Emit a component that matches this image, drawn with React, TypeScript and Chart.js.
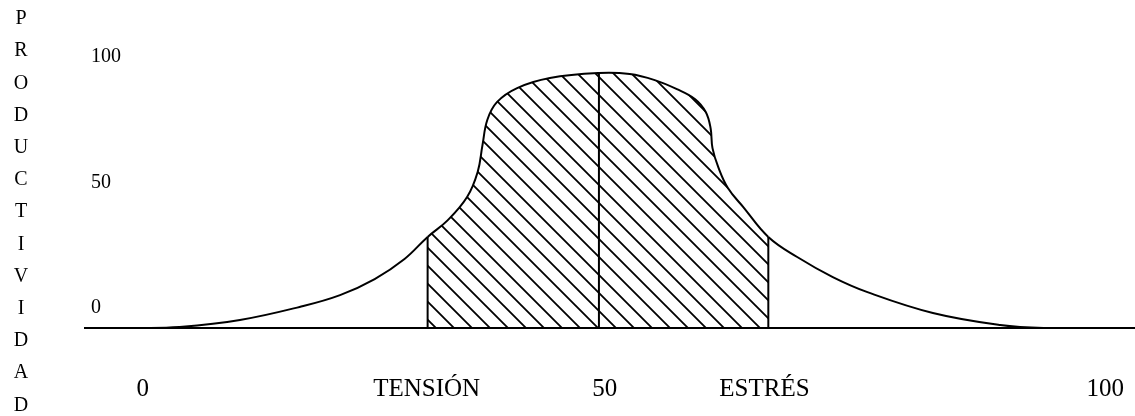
import React, { useEffect, useRef } from 'react';
import { Chart, registerables } from 'chart.js';

Chart.register(...registerables);

// Curve (x = stress level, y = productivity)
const curveX = [-6, 0, 3.8, 10.1, 16.3, 20.5, 24.1, 27.2, 29.6, 31.7, 33.7, 34.8, 35.3, 35.8, 36.8, 38.9, 42.3, 47.4, 50.6, 53.2, 55.5, 57.4, 58.5, 59.0, 59.2, 59.8, 60.8, 62.4, 65.0, 68.0, 71.7, 75.3, 82.1, 89.1, 93.6, 103.1];
const curveY = [0, 0, 0.4, 3.2, 8.4, 13.1, 19.5, 27.5, 36.3, 43.0, 52.2, 62.2, 72.9, 82.9, 90.0, 95.6, 99.6, 101.6, 101.2, 98.8, 95.2, 91.2, 86.1, 79.7, 71.7, 64.1, 55.8, 48.2, 36.3, 28.3, 20.3, 14.3, 6.0, 1.2, 0, 0];

// Hatched zone bounds
const hatchStart = 29.6;
const hatchEnd = 65.0;

// Vertical divider lines (x, height)
const dividerX = [29.6, 47.4, 65.0];
const dividerTop = [36.3, 101.6, 36.3];

// Axis ticks
const xTickValues = [0, 29.5, 48, 64.6, 100];
const xTickLabels = ['0', 'TENSIÓN', '50', 'ESTRÉS', '100'];
const yTickValues = [0, 50, 100];
const yTickLabels = ['0', '50', '100'];
const yAxisWord = 'PRODUCTIVIDAD';

const FONT = '"Liberation Serif", "Times New Roman", serif';

function makeHatch(): CanvasPattern | string {
  const s = 18;
  const c = document.createElement('canvas');
  c.width = s;
  c.height = s;
  const ctx = c.getContext('2d');
  if (!ctx) return 'rgba(0,0,0,0.2)';
  ctx.strokeStyle = '#000';
  ctx.lineWidth = 1.8;
  ctx.beginPath();
  ctx.moveTo(-2, -2);
  ctx.lineTo(s + 2, s + 2);
  ctx.moveTo(s - 3, -3);
  ctx.lineTo(s + 3, 3);
  ctx.moveTo(-3, s - 3);
  ctx.lineTo(3, s + 3);
  ctx.stroke();
  const p = ctx.createPattern(c, 'repeat');
  return p || 'rgba(0,0,0,0.2)';
}

const letterPlugin = {
  id: 'verticalWord',
  afterDraw(chart: any) {
    const ctx = chart.ctx;
    ctx.save();
    ctx.fillStyle = '#000';
    ctx.font = `20px ${FONT}`;
    ctx.textAlign = 'center';
    ctx.textBaseline = 'middle';
    const letters = yAxisWord.split('');
    letters.forEach((ch, i) => {
      ctx.fillText(ch, 21, 19 + i * 32.2);
    });
    ctx.restore();
  },
};

export default function App() {
  const ref = useRef<HTMLCanvasElement | null>(null);

  useEffect(() => {
    if (!ref.current) return;
    const curve = curveX.map((x, i) => ({ x, y: curveY[i] }));
    const hatch = makeHatch();
    const dividers = dividerX.map((x, i) => ({
      type: 'line' as const,
      data: [
        { x, y: 0 },
        { x, y: dividerTop[i] },
      ],
      borderColor: '#000',
      borderWidth: 2,
      pointRadius: 0,
      tension: 0,
      fill: false,
    }));

    const chart = new Chart(ref.current, {
      type: 'line',
      data: {
        datasets: [
          {
            data: curve,
            borderColor: '#000',
            borderWidth: 2,
            pointRadius: 0,
            tension: 0.4,
            backgroundColor: 'rgba(0,0,0,0)',
            fill: 'origin',
            segment: {
              backgroundColor: (c: any) =>
                c.p0.parsed.x >= hatchStart - 1e-9 && c.p1.parsed.x <= hatchEnd + 1e-9
                  ? hatch
                  : 'rgba(0,0,0,0)',
            },
          },
          ...dividers,
        ] as any,
      },
      options: {
        animation: false,
        responsive: false,
        devicePixelRatio: 1,
        layout: { padding: { top: 52, left: 0, right: 0, bottom: 0 } },
        plugins: {
          legend: { display: false },
          tooltip: { enabled: false },
        },
        scales: {
          x: {
            type: 'linear',
            min: -6,
            max: 103.1,
            afterBuildTicks: (s: any) => {
              s.ticks = xTickValues.map((v) => ({ value: v }));
            },
            afterFit: (s: any) => {
              s.height = 88;
              s.paddingLeft = 0;
              s.paddingRight = 0;
            },
            grid: { display: false, drawTicks: false },
            border: { display: true, color: '#000', width: 2 },
            ticks: {
              autoSkip: false,
              maxRotation: 0,
              minRotation: 0,
              padding: 46,
              color: '#000',
              font: { family: FONT, size: 25 },
              callback: (_v: any, i: number) => xTickLabels[i],
            },
          },
          y: {
            type: 'linear',
            min: 0,
            max: 110,
            afterBuildTicks: (s: any) => {
              s.ticks = yTickValues.map((v) => ({ value: v }));
            },
            afterFit: (s: any) => {
              s.width = 85;
              s.paddingTop = 0;
              s.paddingBottom = 0;
            },
            grid: { display: false, drawTicks: false },
            border: { display: false },
            ticks: {
              mirror: true,
              padding: 6,
              labelOffset: -20,
              color: '#000',
              font: { family: FONT, size: 20 },
              callback: (_v: any, i: number) => yTickLabels[i],
            },
          },
        },
      },
      plugins: [letterPlugin],
    });
    return () => chart.destroy();
  }, []);

  return (
    <div style={{ position: 'fixed', left: 0, top: 0, width: 1135, height: 416, background: '#fff' }}>
      <canvas ref={ref} width={1135} height={416} />
    </div>
  );
}
